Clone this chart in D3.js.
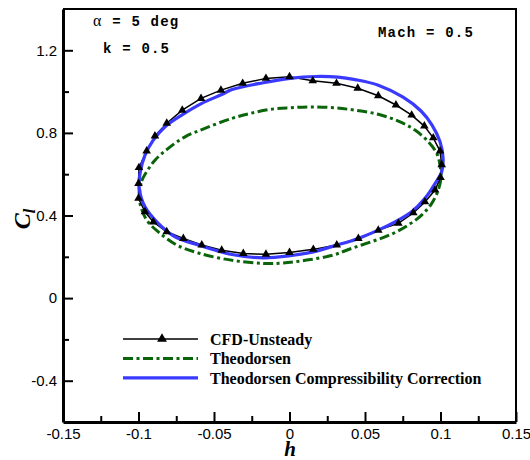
<!DOCTYPE html>
<html>
<head>
<meta charset="utf-8">
<script src="https://cdn.jsdelivr.net/npm/d3@7"></script>
<style>
  body { margin: 0; background: #fff; }
  svg { display: block; }
</style>
</head>
<body>
<div id="chart"></div>
<script>
// plot box
var width = 530,
    height = 460,
    plotLeft = 63, plotRight = 516, plotTop = 9, plotBottom = 422;

// CFD-Unsteady samples (plunge h, lift coefficient Cl)
var cfdH = [-0.1, -0.0997, -0.0946, -0.0891, -0.0813, -0.071, -0.0586, -0.0454, -0.031, -0.0156,
            0.0, 0.0154, 0.0311, 0.0452, 0.0588, 0.0705, 0.0809, 0.0893, 0.0952, 0.0997,
            0.1008, 0.1, 0.0964, 0.0897, 0.082, 0.0721, 0.0588, 0.0456, 0.0313, 0.0158,
            0.0, -0.0156, -0.0306, -0.0449, -0.0581, -0.0703, -0.0813, -0.0902, -0.0957, -0.1];
var cfdCl = [0.555, 0.632, 0.712, 0.785, 0.847, 0.91, 0.967, 1.007, 1.04, 1.064,
             1.072, 1.052, 1.04, 1.016, 0.98, 0.935, 0.886, 0.833, 0.776, 0.712,
             0.646, 0.584, 0.523, 0.466, 0.413, 0.362, 0.329, 0.289, 0.257, 0.236,
             0.221, 0.212, 0.216, 0.232, 0.257, 0.289, 0.321, 0.369, 0.418, 0.483];

// Theodorsen
var theoH = [-0.0993, -0.0979, -0.0946, -0.0891, -0.0803, -0.0692, -0.056, -0.0383, -0.0262, -0.0129,
             0.0003, 0.0136, 0.029, 0.0434, 0.0588, 0.0721, 0.0831, 0.0919, 0.0975, 0.0997,
             0.1003, 0.0985, 0.0942, 0.0875, 0.0787, 0.0677, 0.0544, 0.0412, 0.0288, 0.0114,
             -0.0041, -0.0174, -0.0372, -0.0593, -0.0747, -0.0869, -0.0946, -0.099];
var theoCl = [0.508, 0.567, 0.612, 0.668, 0.725, 0.781, 0.822, 0.87, 0.894, 0.914,
              0.922, 0.926, 0.922, 0.91, 0.89, 0.857, 0.814, 0.757, 0.701, 0.644,
              0.581, 0.523, 0.459, 0.402, 0.354, 0.31, 0.273, 0.241, 0.208, 0.184,
              0.17, 0.168, 0.182, 0.216, 0.257, 0.321, 0.378, 0.459];

// Theodorsen with compressibility correction
var corrH = [-0.0995, -0.099, -0.0957, -0.0902, -0.0824, -0.0714, -0.0581, -0.0449, -0.0381, -0.0174,
             0.0003, 0.0169, 0.0321, 0.0434, 0.0588, 0.0752, 0.0871, 0.0944, 0.0997, 0.1017,
             0.1008, 0.0964, 0.0897, 0.0809, 0.0699, 0.0588, 0.0456, 0.0301, 0.0158, 0.0003,
             -0.0174, -0.0381, -0.0604, -0.0758, -0.0869, -0.0957];
var corrCl = [0.531, 0.604, 0.692, 0.765, 0.83, 0.886, 0.943, 0.986, 1.01, 1.043,
              1.064, 1.073, 1.07, 1.058, 1.031, 0.973, 0.906, 0.838, 0.757, 0.677,
              0.612, 0.555, 0.483, 0.418, 0.369, 0.329, 0.289, 0.254, 0.224, 0.205,
              0.195, 0.211, 0.257, 0.297, 0.362, 0.442];

var xTicks = [-0.15, -0.1, -0.05, 0, 0.05, 0.1, 0.15];
var xMinor = [-0.125, -0.075, -0.025, 0.025, 0.075, 0.125];
var yTicks = [-0.4, 0, 0.4, 0.8, 1.2];
var yMinor = [-0.2, 0.2, 0.6, 1.0];
var seriesNames = ["CFD-Unsteady", "Theodorsen", "Theodorsen Compressibility Correction"];

var x = d3.scaleLinear().domain([-0.15, 0.15]).range([plotLeft, plotRight]);
var y = d3.scaleLinear().domain([-0.6, 1.4]).range([plotBottom, plotTop]);

var svg = d3.select("#chart").append("svg")
    .attr("width", width)
    .attr("height", height);

svg.append("rect")
    .attr("width", width)
    .attr("height", height)
    .attr("fill", "white");

function pts(hs, cls) {
    return hs.map(function(h, i) { return [x(h), y(cls[i])]; });
}

var green = "#0a640a", blue = "#3a3aff";

// curves
var smooth = d3.line().curve(d3.curveCatmullRomClosed.alpha(0.5));
var straight = d3.line().curve(d3.curveLinearClosed);

svg.append("path")
    .attr("d", smooth(pts(theoH, theoCl)))
    .attr("fill", "none")
    .attr("stroke", green)
    .attr("stroke-width", 3)
    .attr("stroke-dasharray", "10,3.5,3,3.5");

svg.append("path")
    .attr("d", straight(pts(cfdH, cfdCl)))
    .attr("fill", "none")
    .attr("stroke", "black")
    .attr("stroke-width", 1.5);

svg.append("path")
    .attr("d", smooth(pts(corrH, corrCl)))
    .attr("fill", "none")
    .attr("stroke", blue)
    .attr("stroke-width", 3.2);

svg.selectAll("path.tri")
    .data(pts(cfdH, cfdCl))
    .enter().append("path")
    .attr("class", "tri")
    .attr("d", d3.symbol().type(d3.symbolTriangle).size(32))
    .attr("transform", function(d) { return "translate(" + d[0] + "," + d[1] + ")"; })
    .attr("fill", "black");

// frame: thin top/right, heavy left/bottom axes
svg.append("path")
    .attr("d", "M" + plotLeft + "," + plotTop + "H" + plotRight + "V" + plotBottom)
    .attr("fill", "none")
    .attr("stroke", "black")
    .attr("stroke-width", 2);

// plain hyphen minus, like the original tick labels
var fmt = function(d) { return String(+d.toFixed(2)); };

svg.append("g")
    .attr("transform", "translate(0," + plotBottom + ")")
    .call(d3.axisBottom(x).tickValues(xTicks).tickSizeInner(-10).tickSizeOuter(0)
        .tickPadding(6).tickFormat(fmt));
svg.append("g")
    .attr("transform", "translate(0," + plotBottom + ")")
    .call(d3.axisBottom(x).tickValues(xMinor).tickSizeInner(-6).tickSizeOuter(0).tickFormat(""))
    .select(".domain").remove();

svg.append("g")
    .attr("transform", "translate(" + plotLeft + ",0)")
    .call(d3.axisLeft(y).tickValues(yTicks).tickSizeInner(-10).tickSizeOuter(0)
        .tickPadding(6).tickFormat(fmt));
svg.append("g")
    .attr("transform", "translate(" + plotLeft + ",0)")
    .call(d3.axisLeft(y).tickValues(yMinor).tickSizeInner(-6).tickSizeOuter(0).tickFormat(""))
    .select(".domain").remove();

svg.selectAll(".tick line").attr("stroke-width", 2);
svg.selectAll(".domain").attr("stroke-width", 3);
svg.selectAll(".tick text")
    .attr("font-family", "'Liberation Sans', Arial, sans-serif")
    .attr("font-size", 15)
    .attr("fill", "black");

// axis titles
svg.append("text")
    .attr("x", 290)
    .attr("y", 455.5)
    .attr("text-anchor", "middle")
    .attr("font-family", "'Liberation Serif', 'Times New Roman', serif")
    .attr("font-style", "italic")
    .attr("font-weight", "bold")
    .attr("font-size", 21)
    .text("h");

var yt = svg.append("text")
    .attr("transform", "translate(30,219) rotate(-90)")
    .attr("text-anchor", "middle")
    .attr("font-family", "'Liberation Serif', 'Times New Roman', serif")
    .attr("font-style", "italic")
    .attr("font-weight", "bold")
    .attr("font-size", 24);
yt.append("tspan").text("C");
yt.append("tspan").attr("font-size", 16).attr("dy", 5).text("l");

// run parameters
var mono = "'Liberation Mono', 'Courier New', monospace";
var a1 = svg.append("text")
    .attr("x", 93).attr("y", 26)
    .attr("font-family", mono).attr("font-weight", "bold")
    .attr("font-size", 14).attr("letter-spacing", 1.2).attr("xml:space", "preserve");
a1.append("tspan").attr("font-family", "'Liberation Serif', serif").attr("font-weight", "normal")
    .attr("font-size", 16).text("\u03b1");
a1.append("tspan").text(" = 5 deg");

svg.append("text")
    .attr("x", 103).attr("y", 53)
    .attr("font-family", mono).attr("font-weight", "bold")
    .attr("font-size", 14).attr("letter-spacing", 1.2)
    .text("k = 0.5");

svg.append("text")
    .attr("x", 378).attr("y", 37)
    .attr("font-family", mono).attr("font-weight", "bold")
    .attr("font-size", 14).attr("letter-spacing", 1.2)
    .text("Mach = 0.5");

// legend
var legend = svg.append("g").attr("transform", "translate(123,339)");
var rowGap = 19.4;
var styles = [
    {stroke: "black", width: 1.5, dash: null},
    {stroke: green, width: 3, dash: "10,3.5,3,3.5"},
    {stroke: blue, width: 3.2, dash: null}
];
seriesNames.forEach(function(name, i) {
    var row = legend.append("g").attr("transform", "translate(0," + i * rowGap + ")");
    row.append("line")
        .attr("x1", 0).attr("x2", 75)
        .attr("stroke", styles[i].stroke)
        .attr("stroke-width", styles[i].width)
        .attr("stroke-dasharray", styles[i].dash);
    if (i == 0) {
        row.append("path")
            .attr("d", d3.symbol().type(d3.symbolTriangle).size(42))
            .attr("transform", "translate(39,0)")
            .attr("fill", "black");
    }
    row.append("text")
        .attr("x", 87).attr("y", 6)
        .attr("font-family", "'Liberation Serif', 'Times New Roman', serif")
        .attr("font-weight", "bold")
        .attr("font-size", 16)
        .text(name);
});
</script>
</body>
</html>
